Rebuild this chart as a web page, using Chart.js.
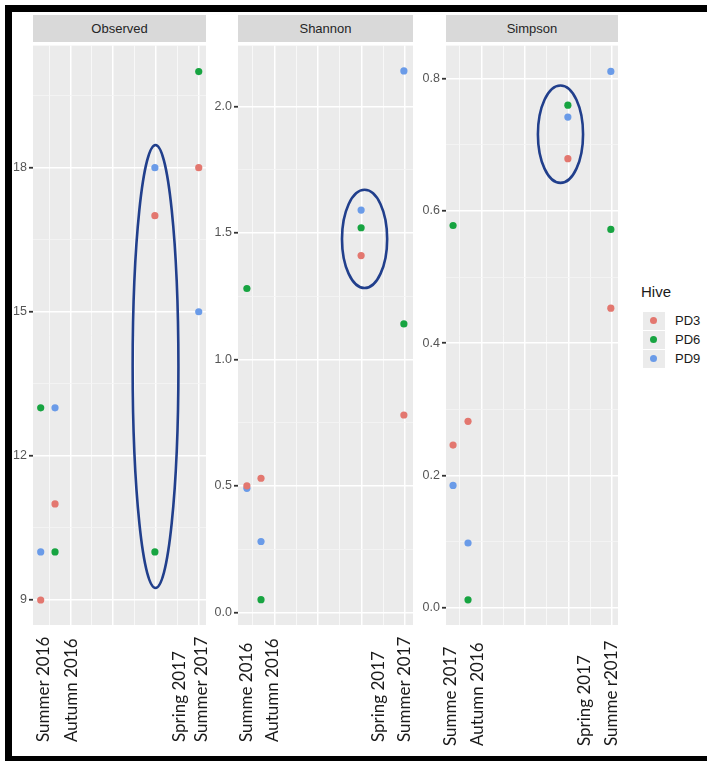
<!DOCTYPE html>
<html>
<head>
<meta charset="utf-8">
<script src="https://cdn.jsdelivr.net/npm/chart.js@4/dist/chart.umd.min.js"></script>
<style>
body { margin:0; background:#fff; width:707px; height:761px; position:relative; overflow:hidden; font-family:"Liberation Sans", Arial, sans-serif; }
.bar { position:absolute; background:#000; z-index:5; }
.strip { position:absolute; top:15px; height:27px; background:#d9d9d9; color:#262626; font-size:13px; line-height:27px; text-align:center; }
.panel { position:absolute; top:42px; }
.legend { position:absolute; left:641px; top:283px; color:#1a1a1a; }
.legend .title { font-size:15px; margin-bottom:11px; }
.legend .row { display:flex; align-items:center; height:19px; }
.legend .key { width:22px; height:18px; background:#ebebeb; position:relative; margin-left:2px; margin-right:10px; }
.legend .key span { position:absolute; left:7px; top:5.5px; width:7px; height:7px; border-radius:50%; }
.legend .row div:last-child { font-size:13px; }
</style>
</head>
<body>
<div class="bar" style="left:5px;top:5px;width:702px;height:7px"></div>
<div class="bar" style="left:5px;top:5px;width:7px;height:756px"></div>
<div class="bar" style="left:5px;top:756px;width:702px;height:5px"></div>

<div class="strip" style="left:33px;width:173px">Observed</div>
<div class="strip" style="left:238px;width:175px">Shannon</div>
<div class="strip" style="left:446px;width:172px">Simpson</div>

<div class="panel" style="left:12px"><canvas id="obs" width="204" height="719"></canvas></div>
<div class="panel" style="left:206px"><canvas id="sha" width="217" height="719"></canvas></div>
<div class="panel" style="left:413px"><canvas id="sim" width="215" height="719"></canvas></div>

<div class="legend" id="legend"><div class="title">Hive</div></div>

<script>
// values
const categories = ['Summer 2016', 'Autumn 2016', 'Spring 2017', 'Summer 2017'];
const hives = ['PD3', 'PD6', 'PD9'];
const hiveColors = ['#e3776f', '#17a441', '#6a9be8'];

const observedPD3 = [9, 11, 17, 18];
const observedPD6 = [13, 10, 10, 20];
const observedPD9 = [10, 13, 18, 15];

const shannonPD3 = [0.50, 0.53, 1.41, 0.78];
const shannonPD6 = [1.28, 0.05, 1.52, 1.14];
const shannonPD9 = [0.49, 0.28, 1.59, 2.14];

const simpsonPD3 = [0.246, 0.282, 0.679, 0.453];
const simpsonPD6 = [0.578, 0.012, 0.760, 0.572];
const simpsonPD9 = [0.185, 0.098, 0.742, 0.811];

const observedTicks = [9, 12, 15, 18];
const shannonTicks = [0, 0.5, 1, 1.5, 2];
const simpsonTicks = [0, 0.2, 0.4, 0.6, 0.8];

// the x labels as they appear under each panel
const observedXLabels = ['Summer 2016', 'Autumn 2016', 'Spring 2017', 'Summer 2017'];
const shannonXLabels = ['Summe 2016', 'Autumn 2016', 'Spring 2017', 'Summer 2017'];
const simpsonXLabels = ['Summe 2017', 'Autumn 2016', 'Spring 2017', 'Summe r2017'];

const panels = [
    {
        id: 'obs', yWidth: 21, yMin: 8.48, yMax: 20.54, xMin: 0.25, xMax: 8.34,
        values: [observedPD3, observedPD6, observedPD9], ticks: observedTicks, step: 3, digits: 0,
        pointX: [0.61, 1.28, 5.95, 8.0], labels: observedXLabels, labelX: [0.74, 2.03, 7.12, 8.15], labelY: 700,
        ring: { x: 5.98, y: 13.86, rx: 1.07, ry: 4.61 }
    },
    {
        id: 'sha', yWidth: 32, yMin: -0.05, yMax: 2.24, xMin: 0.31, xMax: 8.37,
        values: [shannonPD3, shannonPD6, shannonPD9], ticks: shannonTicks, step: 0.5, digits: 1,
        pointX: [0.72, 1.37, 5.98, 7.95], labels: shannonXLabels, labelX: [0.70, 1.92, 6.76, 8.0], labelY: 700,
        ring: { x: 6.14, y: 1.476, rx: 1.04, ry: 0.194 }
    },
    {
        id: 'sim', yWidth: 33, yMin: -0.026, yMax: 0.85, xMin: 0.355, xMax: 8.28,
        values: [simpsonPD3, simpsonPD6, simpsonPD9], ticks: simpsonTicks, step: 0.2, digits: 1,
        pointX: [0.68, 1.37, 5.97, 7.95], labels: simpsonXLabels, labelX: [0.585, 1.83, 6.76, 8.0], labelY: 704,
        ring: { x: 5.63, y: 0.716, rx: 1.04, ry: 0.0736 }
    }
];

const panelBg = {
    id: 'panelBg',
    beforeDraw(chart) {
        const a = chart.chartArea;
        chart.ctx.save();
        chart.ctx.fillStyle = '#ebebeb';
        chart.ctx.fillRect(a.left, a.top, a.right - a.left, a.bottom - a.top);
        chart.ctx.restore();
    }
};

const rings = {
    id: 'rings',
    afterDatasetsDraw(chart, args, opts) {
        const ctx = chart.ctx, sx = chart.scales.x, sy = chart.scales.y;
        const r = opts.ring;
        const cx = sx.getPixelForValue(r.x), cy = sy.getPixelForValue(r.y);
        ctx.save();
        ctx.strokeStyle = '#213f8c';
        ctx.lineWidth = 2.6;
        ctx.beginPath();
        ctx.ellipse(cx, cy, Math.abs(sx.getPixelForValue(r.x + r.rx) - cx), Math.abs(sy.getPixelForValue(r.y + r.ry) - cy), 0, 0, Math.PI * 2);
        ctx.stroke();
        ctx.restore();
    }
};

const xLabels = {
    id: 'xlabels',
    afterDraw(chart, args, opts) {
        const ctx = chart.ctx, sx = chart.scales.x;
        ctx.save();
        ctx.font = '17px Lato';
        ctx.fillStyle = '#1a1a1a';
        ctx.textAlign = 'left';
        ctx.textBaseline = 'middle';
        opts.labels.forEach((t, i) => {
            ctx.save();
            ctx.translate(sx.getPixelForValue(opts.positions[i]), opts.bottom);
            ctx.rotate(-Math.PI / 2);
            ctx.fillText(t, 0, 0);
            ctx.restore();
        });
        ctx.restore();
    }
};

const near = (a, b) => Math.abs(a - b) < 1e-6;

for (const p of panels) {
    const isMajor = (v) => p.ticks.some(t => near(t, v));
    const yTicks = [];
    for (const t of p.ticks) {
        yTicks.push(t);
        for (const m of [t - p.step / 2, t + p.step / 2]) {
            if (m > p.yMin && m < p.yMax && !yTicks.some(v => near(v, m))) yTicks.push(m);
        }
    }
    yTicks.sort((a, b) => a - b);

    new Chart(document.getElementById(p.id), {
        type: 'scatter',
        data: {
            datasets: hives.map((h, i) => ({
                label: h,
                data: p.values[i].map((v, j) => ({ x: p.pointX[j], y: v })),
                backgroundColor: hiveColors[i],
                borderWidth: 0,
                pointRadius: 3.6,
                pointHoverRadius: 3.6
            }))
        },
        options: {
            responsive: false,
            animation: false,
            layout: { padding: { right: 10, top: 0, bottom: 0, left: 0 } },
            plugins: {
                legend: { display: false },
                tooltip: { enabled: false },
                rings: { ring: p.ring },
                xlabels: { labels: p.labels, positions: p.labelX, bottom: p.labelY }
            },
            scales: {
                x: {
                    type: 'linear',
                    min: p.xMin,
                    max: p.xMax,
                    border: { display: false },
                    afterBuildTicks: (s) => { s.ticks = [1, 2, 3, 4, 5, 6, 7, 8].map(v => ({ value: v })); },
                    afterFit: (s) => { s.height = 136; s.paddingLeft = 0; s.paddingRight = 0; },
                    ticks: { display: false },
                    grid: {
                        drawTicks: false,
                        color: (c) => c.tick && c.tick.value % 2 === 0 ? '#ffffff' : '#f8f8f8',
                        lineWidth: (c) => c.tick && c.tick.value % 2 === 0 ? 1.5 : 1
                    }
                },
                y: {
                    type: 'linear',
                    min: p.yMin,
                    max: p.yMax,
                    border: { display: false },
                    afterBuildTicks: (s) => { s.ticks = yTicks.map(v => ({ value: v })); },
                    afterFit: (s) => { s.width = p.yWidth; s.paddingTop = 0; s.paddingBottom = 0; },
                    ticks: {
                        padding: 2,
                        color: '#555555',
                        font: { family: 'Liberation Sans', size: 12.5 },
                        callback: (v) => isMajor(v) ? v.toFixed(p.digits) : ''
                    },
                    grid: {
                        drawTicks: true,
                        tickLength: 4,
                        color: (c) => c.tick && isMajor(c.tick.value) ? '#ffffff' : '#f5f5f5',
                        lineWidth: (c) => c.tick && isMajor(c.tick.value) ? 1.5 : 0.8,
                        tickColor: (c) => c.tick && isMajor(c.tick.value) ? '#333333' : 'rgba(0,0,0,0)',
                        tickWidth: 1.8
                    }
                }
            }
        },
        plugins: [panelBg, rings, xLabels]
    });
}

// legend
const legend = document.getElementById('legend');
hives.forEach((h, i) => {
    const row = document.createElement('div');
    row.className = 'row';
    row.innerHTML = `<div class="key"><span style="background:${hiveColors[i]}"></span></div><div>${h}</div>`;
    legend.appendChild(row);
});
</script>
</body>
</html>
